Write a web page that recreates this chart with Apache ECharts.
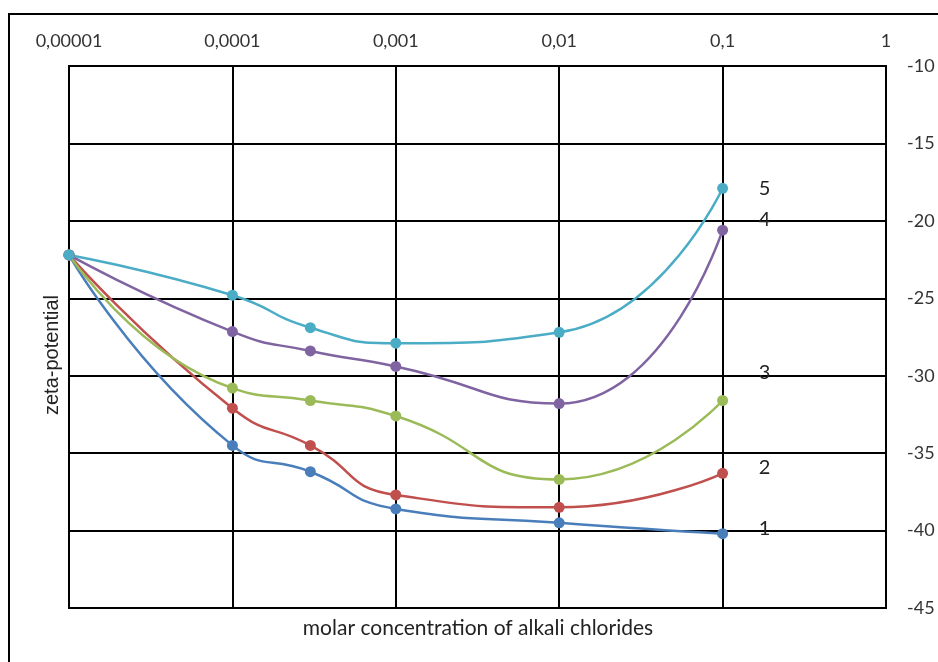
<!DOCTYPE html>
<html>
<head>
<meta charset="utf-8">
<script src="https://cdn.jsdelivr.net/npm/echarts@6/dist/echarts.min.js"></script>
<style>
  html, body { margin: 0; padding: 0; background: #fff; }
  #chart { width: 938px; height: 662px; }
</style>
</head>
<body>
<div id="chart"></div>
<script>
// Molar concentrations (mol/L) at which zeta-potential was measured
const concentrations = [0.00001, 0.0001, 0.0003, 0.001, 0.01, 0.1];

// Zeta-potential (mV) for curves 1..5
const curve1 = [-22.2, -34.5, -36.2, -38.6, -39.5, -40.2];
const curve2 = [-22.2, -32.1, -34.5, -37.7, -38.5, -36.3];
const curve3 = [-22.2, -30.8, -31.6, -32.6, -36.7, -31.6];
const curve4 = [-22.2, -27.15, -28.4, -29.4, -31.8, -20.6];
const curve5 = [-22.2, -24.8, -26.9, -27.9, -27.2, -17.9];

const curveNames = ['1', '2', '3', '4', '5'];
const curveColors = ['#4A7EBB', '#C0504D', '#9BBB59', '#8064A2', '#4BACC6'];
// Vertical nudge of each curve's end label
const endLabelShift = [-5, -6, -28, -11, 0];

// Top axis tick labels, one per decade from 1e-5 to 1
const xTickLabels = ['0,00001', '0,0001', '0,001', '0,01', '0,1', '1'];

const yMin = -45, yMax = -10, yStep = 5;

const FONT = 'Lato';
const curves = [curve1, curve2, curve3, curve4, curve5];

const series = curves.map((vals, i) => ({
  name: curveNames[i],
  type: 'line',
  smooth: 0.55,
  symbol: 'circle',
  symbolSize: 11,
  lineStyle: { width: 2.5, color: curveColors[i] },
  itemStyle: { color: curveColors[i] },
  data: vals.map((v, k) => {
    const pt = { value: [concentrations[k], v] };
    if (k === vals.length - 1) {
      pt.label = {
        show: true,
        position: 'inside',
        offset: [42, endLabelShift[i]],
        formatter: curveNames[i],
        color: '#222',
        fontFamily: FONT,
        fontSize: 20
      };
    }
    return pt;
  })
}));

const chart = echarts.init(document.getElementById('chart'), null, { renderer: 'canvas' });
chart.setOption({
  backgroundColor: '#fff',
  animation: false,
  grid: { left: 69, right: 52, top: 66, bottom: 54, show: true, borderColor: '#000', borderWidth: 2 },
  xAxis: {
    type: 'log',
    logBase: 10,
    min: 0.00001,
    max: 1,
    position: 'top',
    axisLine: { show: true, lineStyle: { color: '#000', width: 2 } },
    axisTick: { show: false },
    splitLine: { show: true, lineStyle: { color: '#000', width: 2 } },
    axisLabel: {
      margin: 16,
      color: '#333',
      fontFamily: FONT,
      fontSize: 18,
      formatter: (v) => xTickLabels[Math.round(Math.log10(v)) + 5]
    }
  },
  yAxis: {
    type: 'value',
    position: 'right',
    min: yMin,
    max: yMax,
    interval: yStep,
    axisLine: { show: true, lineStyle: { color: '#000', width: 2 } },
    axisTick: { show: false },
    splitLine: { show: true, lineStyle: { color: '#000', width: 2 } },
    axisLabel: { margin: 21, color: '#333', fontFamily: FONT, fontSize: 18 }
  },
  graphic: [
    {
      type: 'rect',
      shape: { x: 9, y: 14, width: 960, height: 700 },
      style: { fill: null, stroke: '#000', lineWidth: 2 },
      silent: true
    },
    {
      type: 'text',
      x: 478, y: 628,
      style: {
        text: 'molar concentration of alkali chlorides',
        align: 'center', verticalAlign: 'middle',
        fill: '#222', font: '21px ' + FONT
      }
    },
    {
      type: 'text',
      x: 52, y: 355,
      rotation: Math.PI / 2,
      style: {
        text: 'zeta-potential',
        align: 'center', verticalAlign: 'middle',
        fill: '#222', font: '20px "Liberation Sans"'
      }
    }
  ],
  series: series
});
</script>
</body>
</html>
